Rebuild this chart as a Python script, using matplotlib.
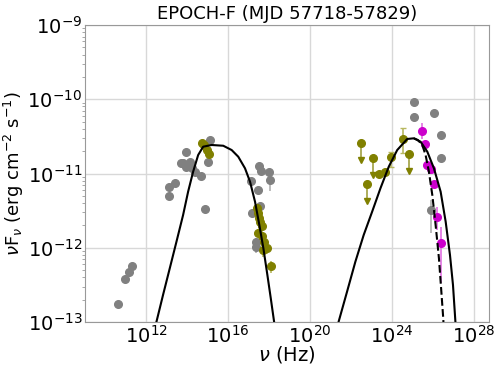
import numpy as np
import matplotlib
matplotlib.use("Agg")
import matplotlib.pyplot as plt

# archival data (grey), log10(nu), log10(nuFnu)
arch_lx = [10.61, 10.97, 11.13, 11.29,
           13.11, 13.11, 13.39, 13.79, 13.93, 13.96, 14.12, 14.21, 14.37, 14.65,
           14.86, 15.02, 15.10, 13.67,
           17.50, 17.60, 18.01, 18.04, 17.10, 17.47, 17.15, 17.55, 17.36, 17.36,
           25.07, 25.07, 26.05, 26.38, 26.41, 25.89]
arch_ly = [-12.76, -12.42, -12.33, -12.24,
           -11.18, -11.30, -11.13, -10.86, -10.71, -10.91, -10.84, -10.93, -10.98, -11.03,
           -11.48, -10.85, -10.55, -10.86,
           -10.90, -10.96, -10.98, -11.09, -11.10, -11.22, -11.53, -11.44, -11.92, -11.99,
           -10.04, -10.235, -10.19, -10.48, -10.795, -11.49]
arch_dlo = [0.05, 0.04, 0, 0,
            0, 0, 0, 0, 0, 0, 0, 0, 0, 0,
            0, 0, 0, 0,
            0, 0, 0, 0.15, 0, 0, 0, 0, 0.08, 0.08,
            0, 0, 0, 0, 0, 0.31]
arch_dhi = [0.03, 0.03, 0, 0,
            0, 0, 0, 0, 0, 0, 0, 0, 0, 0,
            0, 0, 0, 0,
            0, 0, 0, 0.02, 0, 0, 0, 0, 0.05, 0.05,
            0, 0, 0, 0, 0, 0.13]

# epoch F simultaneous data (olive)
ep_lx = [14.70, 14.82, 14.94, 15.05,
         17.39, 17.46, 17.50, 17.55, 17.64, 17.47, 17.65, 17.76, 17.69, 17.91, 18.08]
ep_ly = [-10.585, -10.62, -10.68, -10.74,
         -11.47, -11.53, -11.595, -11.65, -11.71, -11.80, -11.84, -11.92, -12.03, -12.00, -12.24]
ep_dlo = [0, 0, 0, 0,
          0.05, 0.05, 0.05, 0.05, 0.05, 0.05, 0.05, 0.08, 0.10, 0.08, 0.10]
ep_dhi = [0, 0, 0, 0,
          0.05, 0.05, 0.05, 0.05, 0.05, 0.05, 0.05, 0.06, 0.06, 0.06, 0.06]

# Fermi-LAT points (olive) with errors
lat_lx = [23.35, 23.65, 23.96, 24.53]
lat_ly = [-11.01, -10.98, -10.78, -10.53]
lat_dlo = [0, 0, 0.13, 0.20]
lat_dhi = [0, 0, 0.07, 0.14]

# Fermi-LAT upper limits (olive)
ul_lx = [22.49, 23.08, 22.78, 24.82]
ul_ly = [-10.59, -10.79, -11.145, -10.74]
ul_len = 0.23

# MAGIC spectrum (magenta)
magic_lx = [25.48, 25.61, 25.73, 25.89, 26.05, 26.22, 26.38]
magic_ly = [-10.43, -10.60, -10.885, -10.94, -11.14, -11.58, -11.93]
magic_dlo = [0.10, 0.03, 0.03, 0.03, 0.04, 0.18, 0.54]
magic_dhi = [0.11, 0.03, 0.03, 0.03, 0.04, 0.13, 0.21]

# SSC model curves
syn_lx = [12.46, 12.49, 12.814, 13.143, 13.471, 13.795, 14.040, 14.285, 14.531, 14.776,
          15.188, 15.757, 16.169, 16.492, 16.821, 17.066, 17.311, 17.522, 17.719,
          17.915, 18.081, 18.243, 18.29]
syn_ly = [-13.1, -13.0, -12.636, -12.277, -11.918, -11.559, -11.245, -10.976, -10.751, -10.639,
          -10.616, -10.626, -10.684, -10.774, -10.930, -11.110, -11.380, -11.694, -12.007,
          -12.367, -12.681, -12.996, -13.1]
ic_lx = [21.37, 21.397, 21.809, 22.216, 22.623, 23.035, 23.442, 23.849, 24.261, 24.751,
         25.075, 25.404, 25.732, 26.056, 26.384, 26.630, 26.841, 26.988, 27.106, 27.13]
ic_ly = [-13.1, -12.996, -12.592, -12.188, -11.828, -11.515, -11.199, -10.908, -10.684, -10.535,
         -10.526, -10.572, -10.706, -10.930, -11.245, -11.649, -12.098, -12.502, -12.996, -13.1]
ebl_lx = [25.075, 25.271, 25.487, 25.649, 25.811, 25.977, 26.139, 26.301, 26.419, 26.517, 26.53]
ebl_ly = [-10.526, -10.549, -10.616, -10.751, -10.976, -11.290, -11.694, -12.142, -12.592, -12.973, -13.1]


def pts(lx, ly):
    return 10.0 ** np.array(lx), 10.0 ** np.array(ly)


def yerr(ly, dlo, dhi):
    y = 10.0 ** np.array(ly)
    return [y - y * 10.0 ** -np.array(dlo), y * 10.0 ** np.array(dhi) - y]


fig = plt.figure(figsize=(4.98, 3.65), dpi=100)
ax = fig.add_axes([0.1707, 0.1178, 0.8113, 0.8137])

grey = "#808080"
olive = "#808000"
mag = "#cc00cc"
ms = 5.5

x, y = pts(arch_lx, arch_ly)
ax.errorbar(x, y, yerr=yerr(arch_ly, arch_dlo, arch_dhi), fmt="o", color=grey,
            ecolor="#b0b0b0", ms=ms, elinewidth=1.2, zorder=2)

x, y = pts(ep_lx, ep_ly)
ax.errorbar(x, y, yerr=yerr(ep_ly, ep_dlo, ep_dhi), fmt="o", color=olive,
            ecolor="#b8b860", ms=ms, elinewidth=1.2, zorder=3)

x, y = pts(lat_lx, lat_ly)
ax.errorbar(x, y, yerr=yerr(lat_ly, lat_dlo, lat_dhi), fmt="o", color=olive,
            ecolor="#b8b860", ms=ms, elinewidth=1.2, capsize=2.5, zorder=3)

x, y = pts(ul_lx, ul_ly)
ylow = y * 10.0 ** -ul_len
ax.errorbar(x, y, yerr=[y - ylow, np.zeros_like(y)], fmt="o", color=olive,
            ecolor="#a0a040", ms=ms, elinewidth=1.2, zorder=3)
ax.plot(x, ylow, "v", color=olive, ms=4, ls="none", zorder=3)

x, y = pts(magic_lx, magic_ly)
ax.errorbar(x, y, yerr=yerr(magic_ly, magic_dlo, magic_dhi), fmt="o", color=mag,
            ecolor="#e070e0", ms=ms, elinewidth=1.2, zorder=3)

x, y = pts(syn_lx, syn_ly)
ax.plot(x, y, color="black", lw=1.5, zorder=4)
x, y = pts(ic_lx, ic_ly)
ax.plot(x, y, color="black", lw=1.5, zorder=4)
x, y = pts(ebl_lx, ebl_ly)
ax.plot(x, y, color="black", lw=1.5, ls="--", zorder=4)

ax.set_xscale("log")
ax.set_yscale("log")
ax.set_xlim(10 ** 9.0, 10 ** 28.75)
ax.set_ylim(1e-13, 1e-9)
ax.set_xticks([1e12, 1e16, 1e20, 1e24, 1e28])
ax.set_yticks([1e-13, 1e-12, 1e-11, 1e-10, 1e-9])
ax.grid(True, which="major", color="#d8d8d8", lw=1)
ax.set_axisbelow(True)
ax.tick_params(which="major", length=0, labelsize=14, pad=2)
ax.tick_params(which="minor", length=2, color="#999999")
ax.tick_params(axis="x", which="minor", length=0)
for s in ax.spines.values():
    s.set_color("#999999")

ax.set_title("EPOCH-F (MJD 57718-57829)", fontsize=13, pad=4)
ax.set_xlabel(r"$\nu$ (Hz)", fontsize=14, labelpad=-2)
ax.set_ylabel(r"$\nu$F$_\nu$ (erg cm$^{-2}$ s$^{-1}$)", fontsize=13, labelpad=1)

fig.savefig("out.png", dpi=100)
